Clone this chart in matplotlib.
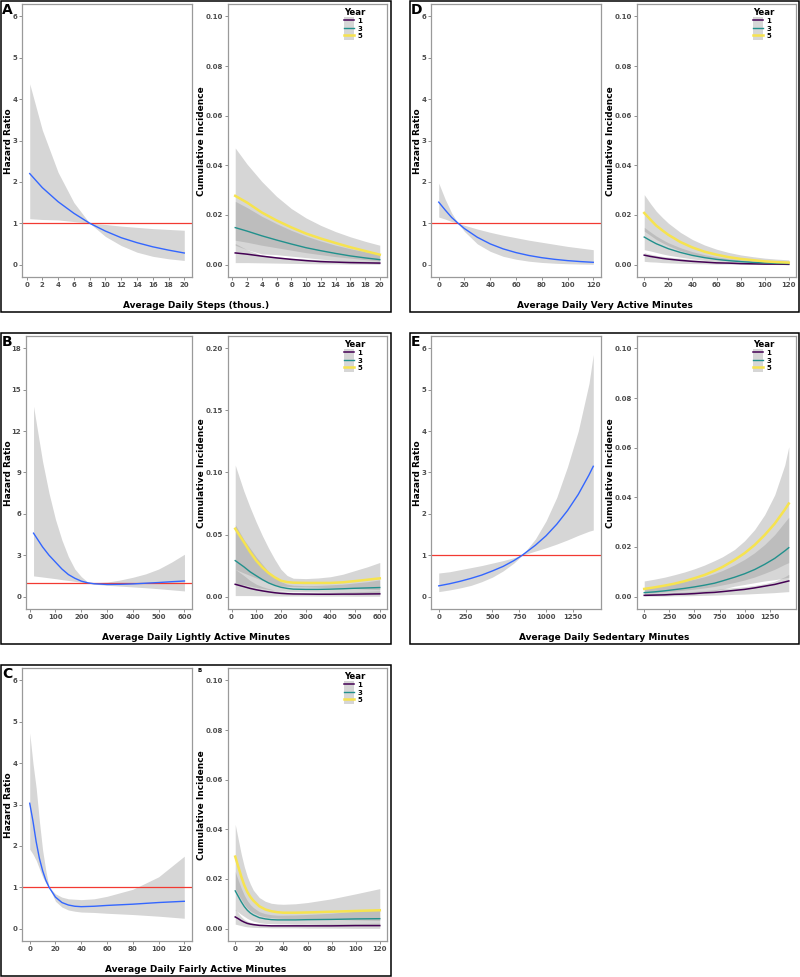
import matplotlib
matplotlib.use("Agg")
import matplotlib.pyplot as plt
from matplotlib.patches import Rectangle, Patch
from matplotlib.lines import Line2D

plt.rcParams['font.family'] = ['DejaVu Sans']
plt.rcParams['font.weight'] = 'bold'

W, H = 800, 977

# ---------------- data ----------------
# A: average daily steps (thousands)
a_x = [0.4, 2, 4, 6, 8, 10, 12, 14, 16, 18, 20]
a_hr = [2.20, 1.86, 1.52, 1.24, 1.00, 0.81, 0.65, 0.53, 0.43, 0.35, 0.28]
a_hr_lo = [1.11, 1.09, 1.08, 1.04, 1.00, 0.68, 0.46, 0.30, 0.20, 0.14, 0.10]
a_hr_hi = [4.37, 3.25, 2.23, 1.50, 1.00, 0.97, 0.93, 0.90, 0.87, 0.85, 0.83]
a_ci1 = [0.0047, 0.0042, 0.0034, 0.0027, 0.0021, 0.0016, 0.0012, 0.0010, 0.0008, 0.0007, 0.0006]
a_ci1_lo = [0.0008, 0.0008, 0.0007, 0.0006, 0.0005, 0.0004, 0.0003, 0.0003, 0.0002, 0.0002, 0.0001]
a_ci1_hi = [0.0085, 0.0060, 0.0038, 0.0031, 0.0026, 0.0022, 0.0020, 0.0017, 0.0015, 0.0013, 0.0011]
a_ci3 = [0.0149, 0.0135, 0.0116, 0.0099, 0.0083, 0.0068, 0.0056, 0.0045, 0.0035, 0.0027, 0.0020]
a_ci3_lo = [0.0078, 0.0060, 0.0043, 0.0040, 0.0034, 0.0028, 0.0022, 0.0017, 0.0013, 0.0010, 0.0007]
a_ci3_hi = [0.0255, 0.0230, 0.0195, 0.0165, 0.0138, 0.0115, 0.0095, 0.0078, 0.0064, 0.0052, 0.0042]
a_ci5 = [0.0277, 0.0250, 0.0210, 0.0178, 0.0150, 0.0125, 0.0105, 0.0087, 0.0070, 0.0055, 0.0040]
a_ci5_lo = [0.0098, 0.0090, 0.0078, 0.0068, 0.0058, 0.0048, 0.0040, 0.0032, 0.0026, 0.0020, 0.0015]
a_ci5_hi = [0.0470, 0.0405, 0.0335, 0.0275, 0.0226, 0.0188, 0.0158, 0.0133, 0.0112, 0.0094, 0.0078]

# B: lightly active minutes
b_x = [15, 50, 75, 100, 125, 150, 175, 200, 225, 250, 300, 350, 400, 450, 500, 550, 600]
b_hr = [4.6, 3.6, 3.0, 2.5, 2.0, 1.6, 1.33, 1.12, 1.0, 0.93, 0.88, 0.89, 0.92, 0.97, 1.02, 1.08, 1.13]
b_hr_lo = [1.5, 1.42, 1.36, 1.3, 1.23, 1.17, 1.10, 1.04, 0.97, 0.90, 0.82, 0.76, 0.70, 0.64, 0.57, 0.49, 0.41]
b_hr_hi = [13.8, 9.8, 7.5, 5.6, 4.1, 2.9, 2.0, 1.45, 1.05, 1.0, 1.05, 1.2, 1.4, 1.65, 2.0, 2.5, 3.07]
b_ci1 = [0.0099, 0.0080, 0.0066, 0.0055, 0.0046, 0.0038, 0.0031, 0.0026, 0.0023, 0.0021, 0.0020, 0.0019, 0.0019, 0.0020, 0.0020, 0.0021, 0.0022]
b_ci1_lo = [0.0008, 0.0008, 0.0008, 0.0007, 0.0007, 0.0006, 0.0006, 0.0005, 0.0005, 0.0005, 0.0005, 0.0004, 0.0004, 0.0004, 0.0003, 0.0003, 0.0003]
b_ci1_hi = [0.022, 0.017, 0.013, 0.010, 0.0080, 0.0065, 0.0052, 0.0042, 0.0037, 0.0034, 0.0032, 0.0032, 0.0033, 0.0035, 0.0038, 0.0042, 0.0046]
b_ci3 = [0.029, 0.024, 0.020, 0.0168, 0.0137, 0.011, 0.0090, 0.0075, 0.0066, 0.0060, 0.0058, 0.0058, 0.006, 0.0063, 0.0067, 0.0070, 0.0073]
b_ci3_lo = [0.010, 0.0095, 0.0085, 0.0075, 0.0066, 0.0058, 0.0051, 0.0045, 0.0042, 0.0040, 0.0038, 0.0036, 0.0034, 0.0032, 0.0029, 0.0026, 0.0023]
b_ci3_hi = [0.058, 0.046, 0.039, 0.032, 0.026, 0.020, 0.0155, 0.012, 0.010, 0.0092, 0.0088, 0.0090, 0.0095, 0.010, 0.011, 0.012, 0.0135]
b_ci5 = [0.0547, 0.044, 0.036, 0.029, 0.0235, 0.019, 0.0155, 0.0128, 0.0117, 0.0112, 0.011, 0.011, 0.011, 0.0115, 0.0125, 0.0136, 0.0147]
b_ci5_lo = [0.022, 0.019, 0.017, 0.015, 0.013, 0.011, 0.0095, 0.0085, 0.0082, 0.0080, 0.0078, 0.0075, 0.0072, 0.0068, 0.0064, 0.0060, 0.0056]
b_ci5_hi = [0.106, 0.085, 0.072, 0.060, 0.049, 0.039, 0.030, 0.022, 0.017, 0.0148, 0.0145, 0.015, 0.016, 0.018, 0.021, 0.024, 0.0275]

# C: fairly active minutes
c_x = [0, 2.5, 5, 7.5, 10, 12.5, 15, 20, 25, 30, 35, 40, 50, 60, 80, 100, 120]
c_hr = [3.03, 2.6, 2.1, 1.7, 1.4, 1.17, 1.0, 0.76, 0.63, 0.57, 0.54, 0.53, 0.54, 0.56, 0.59, 0.63, 0.66]
c_hr_lo = [1.92, 1.80, 1.65, 1.45, 1.25, 1.10, 1.0, 0.66, 0.52, 0.45, 0.42, 0.40, 0.39, 0.37, 0.34, 0.30, 0.25]
c_hr_hi = [4.73, 4.0, 3.4, 2.6, 1.9, 1.4, 1.0, 0.84, 0.76, 0.72, 0.71, 0.70, 0.72, 0.78, 0.95, 1.25, 1.75]
c_ci1 = [0.0047, 0.0040, 0.0032, 0.0026, 0.0021, 0.0018, 0.0016, 0.0013, 0.0012, 0.0011, 0.0011, 0.0011, 0.0011, 0.0011, 0.0011, 0.0012, 0.0012]
c_ci1_lo = [0.0018, 0.0015, 0.0012, 0.0009, 0.0007, 0.0006, 0.0005, 0.0004, 0.0004, 0.0003, 0.0003, 0.0003, 0.0003, 0.0002, 0.0002, 0.0001, 0.0001]
c_ci1_hi = [0.0078, 0.0063, 0.0048, 0.0037, 0.0030, 0.0025, 0.0022, 0.0018, 0.0016, 0.0016, 0.0016, 0.0016, 0.0017, 0.0017, 0.0018, 0.0020, 0.0022]
c_ci3 = [0.0152, 0.0130, 0.0108, 0.0089, 0.0074, 0.0063, 0.0055, 0.0044, 0.0039, 0.0036, 0.0035, 0.0035, 0.0035, 0.0036, 0.0037, 0.0039, 0.0040]
c_ci3_lo = [0.0075, 0.0066, 0.0057, 0.0049, 0.0041, 0.0035, 0.0030, 0.0024, 0.0021, 0.0020, 0.0019, 0.0019, 0.0018, 0.0018, 0.0016, 0.0015, 0.0013]
c_ci3_hi = [0.023, 0.0195, 0.0163, 0.0135, 0.0113, 0.0097, 0.0085, 0.0068, 0.0060, 0.0056, 0.0054, 0.0054, 0.0055, 0.0057, 0.0062, 0.0070, 0.0080]
c_ci5 = [0.029, 0.025, 0.021, 0.0175, 0.0148, 0.0128, 0.0113, 0.0090, 0.0077, 0.0070, 0.0066, 0.0064, 0.0064, 0.0065, 0.0068, 0.0071, 0.0074]
c_ci5_lo = [0.016, 0.0138, 0.0118, 0.0098, 0.0083, 0.0072, 0.0064, 0.0053, 0.0047, 0.0044, 0.0042, 0.0041, 0.0040, 0.0039, 0.0037, 0.0035, 0.0033]
c_ci5_hi = [0.042, 0.036, 0.030, 0.025, 0.021, 0.018, 0.0155, 0.0125, 0.0110, 0.0102, 0.0099, 0.0098, 0.0100, 0.0105, 0.0120, 0.0140, 0.0161]

# D: very active minutes
d_x = [0, 5, 10, 15, 20, 30, 40, 50, 60, 70, 80, 90, 100, 110, 120]
d_hr = [1.51, 1.32, 1.14, 1.0, 0.87, 0.66, 0.50, 0.38, 0.29, 0.22, 0.167, 0.127, 0.096, 0.073, 0.055]
d_hr_lo = [1.15, 1.10, 1.04, 1.0, 0.80, 0.50, 0.32, 0.20, 0.13, 0.082, 0.052, 0.033, 0.021, 0.013, 0.008]
d_hr_hi = [1.97, 1.58, 1.25, 1.0, 0.95, 0.86, 0.78, 0.71, 0.65, 0.59, 0.54, 0.49, 0.44, 0.40, 0.36]
d_ci1 = [0.0038, 0.0033, 0.0029, 0.0025, 0.0022, 0.0017, 0.0013, 0.0010, 0.0007, 0.0006, 0.0004, 0.0003, 0.0002, 0.0002, 0.0001]
d_ci1_lo = [0.0013, 0.0011, 0.0010, 0.0008, 0.0007, 0.0005, 0.0004, 0.0003, 0.0002, 0.0002, 0.0001, 0.0001, 0.0001, 0.0000, 0.0000]
d_ci1_hi = [0.0048, 0.0042, 0.0037, 0.0033, 0.0030, 0.0025, 0.0020, 0.0016, 0.0013, 0.0010, 0.0008, 0.0007, 0.0006, 0.0005, 0.0004]
d_ci3 = [0.0111, 0.0097, 0.0084, 0.0074, 0.0064, 0.0049, 0.0037, 0.0028, 0.0021, 0.0016, 0.0012, 0.0009, 0.0007, 0.0005, 0.0004]
d_ci3_lo = [0.0060, 0.0055, 0.0049, 0.0043, 0.0038, 0.0030, 0.0023, 0.0017, 0.0013, 0.0010, 0.0007, 0.0005, 0.0004, 0.0003, 0.0002]
d_ci3_hi = [0.0150, 0.0132, 0.0115, 0.0101, 0.0088, 0.0068, 0.0052, 0.0040, 0.0031, 0.0024, 0.0019, 0.0015, 0.0012, 0.0010, 0.0009]
d_ci5 = [0.0208, 0.0182, 0.0157, 0.0138, 0.0120, 0.0091, 0.0069, 0.0052, 0.0040, 0.0030, 0.0023, 0.0018, 0.0013, 0.0010, 0.0008]
d_ci5_lo = [0.0135, 0.0118, 0.0101, 0.0088, 0.0076, 0.0056, 0.0041, 0.0030, 0.0022, 0.0016, 0.0012, 0.0009, 0.0007, 0.0005, 0.0004]
d_ci5_hi = [0.0282, 0.0247, 0.0215, 0.0190, 0.0167, 0.0130, 0.0101, 0.0079, 0.0062, 0.0049, 0.0039, 0.0032, 0.0026, 0.0022, 0.0019]

# E: sedentary minutes
e_x = [0, 100, 200, 300, 400, 500, 600, 700, 778, 900, 1000, 1100, 1200, 1300, 1400, 1440]
e_hr = [0.26, 0.31, 0.37, 0.44, 0.52, 0.62, 0.73, 0.87, 1.0, 1.24, 1.47, 1.75, 2.08, 2.47, 2.94, 3.15]
e_hr_lo = [0.12, 0.16, 0.21, 0.27, 0.36, 0.47, 0.62, 0.81, 1.0, 1.10, 1.18, 1.27, 1.37, 1.48, 1.58, 1.61]
e_hr_hi = [0.57, 0.60, 0.65, 0.70, 0.75, 0.81, 0.87, 0.94, 1.0, 1.39, 1.83, 2.40, 3.14, 4.0, 5.15, 5.85]
e_ci1 = [0.0005, 0.0006, 0.0007, 0.0009, 0.0010, 0.0012, 0.0015, 0.0017, 0.0020, 0.0025, 0.0029, 0.0035, 0.0042, 0.0049, 0.0059, 0.0063]
e_ci1_lo = [0.0002, 0.0002, 0.0002, 0.0003, 0.0003, 0.0004, 0.0005, 0.0006, 0.0007, 0.0009, 0.0010, 0.0012, 0.0014, 0.0016, 0.0019, 0.0020]
e_ci1_hi = [0.0012, 0.0013, 0.0014, 0.0016, 0.0018, 0.0021, 0.0024, 0.0028, 0.0032, 0.0036, 0.0040, 0.0045, 0.0052, 0.0062, 0.0080, 0.0090]
e_ci3 = [0.0016, 0.0019, 0.0023, 0.0028, 0.0033, 0.0039, 0.0046, 0.0054, 0.0063, 0.0078, 0.0092, 0.0109, 0.0130, 0.0154, 0.0184, 0.0197]
e_ci3_lo = [0.0007, 0.0008, 0.0010, 0.0012, 0.0014, 0.0017, 0.0020, 0.0024, 0.0030, 0.0042, 0.0049, 0.0056, 0.0063, 0.0068, 0.0075, 0.0078]
e_ci3_hi = [0.0035, 0.0040, 0.0046, 0.0053, 0.0061, 0.0070, 0.0080, 0.0093, 0.0105, 0.0128, 0.0150, 0.0177, 0.0210, 0.0250, 0.0300, 0.0320]
e_ci5 = [0.0031, 0.0037, 0.0044, 0.0052, 0.0062, 0.0074, 0.0087, 0.0104, 0.0119, 0.0148, 0.0175, 0.0208, 0.0248, 0.0294, 0.0350, 0.0375]
e_ci5_lo = [0.0014, 0.0016, 0.0019, 0.0022, 0.0026, 0.0030, 0.0035, 0.0041, 0.0047, 0.0057, 0.0067, 0.0079, 0.0094, 0.0110, 0.0130, 0.0137]
e_ci5_hi = [0.0063, 0.0070, 0.0078, 0.0088, 0.0099, 0.0112, 0.0127, 0.0145, 0.0160, 0.0190, 0.0225, 0.0270, 0.0330, 0.0410, 0.0530, 0.0604]

years = ['1', '3', '5']
year_colors = ['#440154', '#21908C', '#F6E34F']
year_lw = [1.1, 1.0, 1.8]

BLUE = '#3366FF'
RED = '#F23A32'
RIB = '#999999'
TICK_C = '#4D4D4D'
SPINE_C = '#9A9A9A'


def fig_rect(x0, y0, x1, y1):
    return [x0 / W, 1 - y1 / H, (x1 - x0) / W, (y1 - y0) / H]


def style_ax(ax, xticks, yticks, x, yfmt):
    span = yticks[-1] - yticks[0]
    ax.set_ylim(yticks[0] - 0.05 * span, yticks[-1] + 0.05 * span)
    xr = max(x) - min(x)
    ax.set_xlim(min(x) - 0.05 * xr, max(x) + 0.05 * xr)
    ax.set_xticks(xticks)
    ax.set_yticks(yticks)
    ax.set_yticklabels([yfmt.format(v) for v in yticks])
    ax.tick_params(length=2, width=0.6, color='#7F7F7F', labelsize=5.0,
                   labelcolor=TICK_C, pad=1.5)
    for s in ax.spines.values():
        s.set_color(SPINE_C)
        s.set_linewidth(0.9)


def draw_panel(fig, bx, by, bw, letter, xlabel, x, hr, hr_lo, hr_hi, cis,
               xticks, hr_ticks, ci_ticks, hr_left=21):
    # panel box
    fig.add_artist(Rectangle((bx / W, 1 - (by + 311) / H), bw / W, 311 / H,
                             transform=fig.transFigure, fill=False,
                             ec='black', lw=1.1))
    fig.text((bx + 1) / W, 1 - (by + 2) / H, letter, ha='left', va='top',
             fontsize=10, fontweight='bold')

    # hazard ratio
    ax1 = fig.add_axes(fig_rect(bx + hr_left, by + 3, bx + 191, by + 276))
    ax1.fill_between(x, hr_lo, hr_hi, color=RIB, alpha=0.4, lw=0)
    ax1.axhline(1, color=RED, lw=0.9)
    ax1.plot(x, hr, color=BLUE, lw=1.0)
    style_ax(ax1, xticks, hr_ticks, x, '{:g}')
    fig.text((bx + 7.5) / W, 1 - (by + 140) / H, 'Hazard Ratio', rotation=90,
             ha='center', va='center', fontsize=6.5, fontweight='bold')

    # cumulative incidence
    ax2 = fig.add_axes(fig_rect(bx + 227, by + 3, bx + 386, by + 276))
    for (c, lo, hi) in cis:
        ax2.fill_between(x, lo, hi, color=RIB, alpha=0.4, lw=0)
    for (c, lo, hi), col, lw in zip(cis, year_colors, year_lw):
        ax2.plot(x, c, color=col, lw=lw)
    style_ax(ax2, xticks, ci_ticks, x, '{:.2f}')
    fig.text((bx + 200.5) / W, 1 - (by + 140) / H, 'Cumulative Incidence',
             rotation=90, ha='center', va='center', fontsize=6.5,
             fontweight='bold')

    handles = [(Patch(fc=RIB, alpha=0.4, lw=0), Line2D([], [], color=col, lw=lw))
               for col, lw in zip(year_colors, year_lw)]
    ax2.legend(handles, years, title='Year', loc='upper left',
               bbox_to_anchor=(0.73, 0.985), frameon=False, fontsize=5,
               handlelength=1.4, handleheight=1.3, labelspacing=0,
               handletextpad=0.5, borderpad=0, borderaxespad=0,
               alignment='left',
               title_fontproperties={'weight': 'bold', 'size': 6.2})

    fig.text((bx + bw / 2) / W, 1 - (by + 305) / H, xlabel, ha='center',
             va='center', fontsize=6.5, fontweight='bold')
    return ax1, ax2


fig = plt.figure(figsize=(W / 100, H / 100), dpi=100)

draw_panel(fig, 1, 1, 390, 'A', 'Average Daily Steps (thous.)',
           a_x, a_hr, a_hr_lo, a_hr_hi,
           [(a_ci1, a_ci1_lo, a_ci1_hi), (a_ci3, a_ci3_lo, a_ci3_hi),
            (a_ci5, a_ci5_lo, a_ci5_hi)],
           list(range(0, 21, 2)), [0, 1, 2, 3, 4, 5, 6],
           [0, 0.02, 0.04, 0.06, 0.08, 0.10])

draw_panel(fig, 1, 333, 390, 'B', 'Average Daily Lightly Active Minutes',
           b_x, b_hr, b_hr_lo, b_hr_hi,
           [(b_ci1, b_ci1_lo, b_ci1_hi), (b_ci3, b_ci3_lo, b_ci3_hi),
            (b_ci5, b_ci5_lo, b_ci5_hi)],
           list(range(0, 601, 100)), [0, 3, 6, 9, 12, 15, 18],
           [0, 0.05, 0.10, 0.15, 0.20], hr_left=25)

draw_panel(fig, 1, 665, 390, 'C', 'Average Daily Fairly Active Minutes',
           c_x, c_hr, c_hr_lo, c_hr_hi,
           [(c_ci1, c_ci1_lo, c_ci1_hi), (c_ci3, c_ci3_lo, c_ci3_hi),
            (c_ci5, c_ci5_lo, c_ci5_hi)],
           list(range(0, 121, 20)), [0, 1, 2, 3, 4, 5, 6],
           [0, 0.02, 0.04, 0.06, 0.08, 0.10])
fig.text(198 / W, 1 - 668 / H, 'B', ha='left', va='top', fontsize=4,
         fontweight='bold')

draw_panel(fig, 410, 1, 389, 'D', 'Average Daily Very Active Minutes',
           d_x, d_hr, d_hr_lo, d_hr_hi,
           [(d_ci1, d_ci1_lo, d_ci1_hi), (d_ci3, d_ci3_lo, d_ci3_hi),
            (d_ci5, d_ci5_lo, d_ci5_hi)],
           list(range(0, 121, 20)), [0, 1, 2, 3, 4, 5, 6],
           [0, 0.02, 0.04, 0.06, 0.08, 0.10])

draw_panel(fig, 410, 333, 389, 'E', 'Average Daily Sedentary Minutes',
           e_x, e_hr, e_hr_lo, e_hr_hi,
           [(e_ci1, e_ci1_lo, e_ci1_hi), (e_ci3, e_ci3_lo, e_ci3_hi),
            (e_ci5, e_ci5_lo, e_ci5_hi)],
           [0, 250, 500, 750, 1000, 1250], [0, 1, 2, 3, 4, 5, 6],
           [0, 0.02, 0.04, 0.06, 0.08, 0.10])

fig.savefig('out.png', dpi=100)
